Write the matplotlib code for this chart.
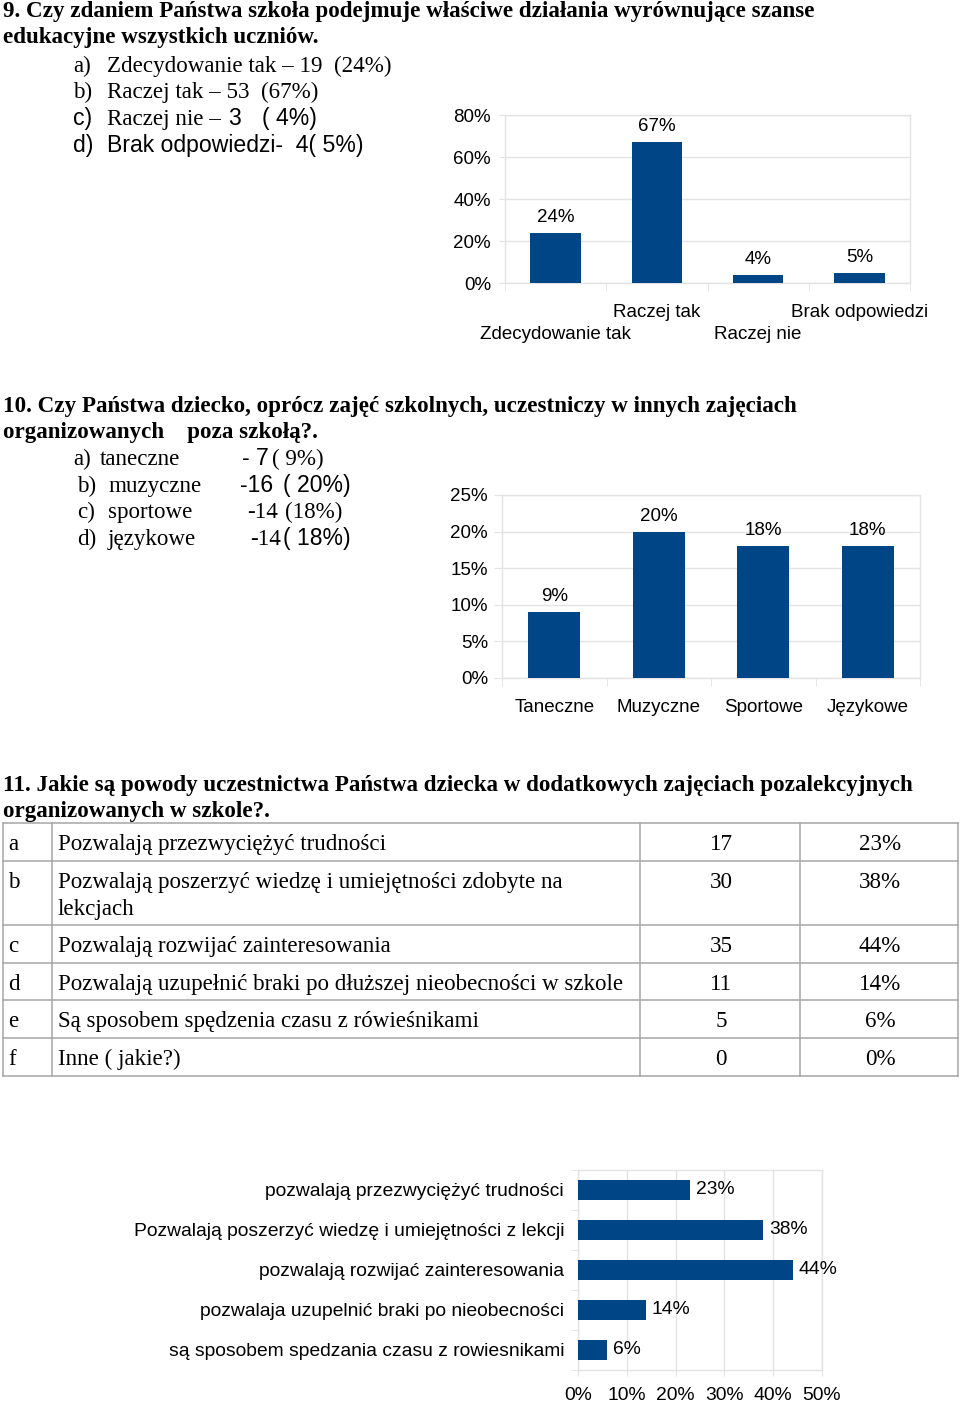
import matplotlib
matplotlib.use("Agg")
import matplotlib.pyplot as plt
import numpy as np

# ---------------- data ----------------
q9_title = ["9. Czy zdaniem Państwa szkoła podejmuje właściwe działania wyrównujące szanse",
            "edukacyjne wszystkich uczniów."]
q9_categories = ["Zdecydowanie tak", "Raczej tak", "Raczej nie", "Brak odpowiedzi"]
q9_counts = [19, 53, 3, 4]
q9_percent = [24, 67, 4, 5]
q9_yticks = [0, 20, 40, 60, 80]

q10_title = ["10. Czy Państwa dziecko, oprócz zajęć szkolnych, uczestniczy w innych zajęciach",
             "organizowanych    poza szkołą?."]
q10_list_names = ["taneczne", "muzyczne", "sportowe", "językowe"]
q10_categories = ["Taneczne", "Muzyczne", "Sportowe", "Językowe"]
q10_counts = [7, 16, 14, 14]
q10_percent = [9, 20, 18, 18]
q10_yticks = [0, 5, 10, 15, 20, 25]

q11_title = ["11. Jakie są powody uczestnictwa Państwa dziecka w dodatkowych zajęciach pozalekcyjnych",
             "organizowanych w szkole?."]
q11_letters = ["a", "b", "c", "d", "e", "f"]
q11_answers = ["Pozwalają przezwyciężyć trudności",
               "Pozwalają poszerzyć wiedzę i umiejętności zdobyte na\nlekcjach",
               "Pozwalają rozwijać zainteresowania",
               "Pozwalają uzupełnić braki po dłuższej nieobecności w szkole",
               "Są sposobem spędzenia czasu z rówieśnikami",
               "Inne ( jakie?)"]
q11_counts = [17, 30, 35, 11, 5, 0]
q11_percent = [23, 38, 44, 14, 6, 0]

q11_chart_labels = ["pozwalają przezwyciężyć trudności",
                    "Pozwalają poszerzyć wiedzę i umiejętności z lekcji",
                    "pozwalają rozwijać zainteresowania",
                    "pozwalaja uzupelnić braki po nieobecności",
                    "są sposobem spedzania czasu z rowiesnikami"]
q11_chart_percent = [23, 38, 44, 14, 6]
q11_xticks = [0, 10, 20, 30, 40, 50]

# ---------------- style ----------------
W, H = 960, 1403
SERIF = "Liberation Serif"
SANS = "Liberation Sans"
BAR = "#004586"
GRID = "#e3e3e3"
BODY = 16.6
CH = 13.5
CH3 = 13.9

fig = plt.figure(figsize=(W / 100, H / 100), dpi=100)
fig.patch.set_facecolor("white")


def T(x, y, s, fam=SERIF, size=BODY, weight="normal", **kw):
    kw.setdefault("va", "baseline")
    kw.setdefault("ha", "left")
    fig.text(x / W, 1 - y / H, s, family=fam, fontsize=size, weight=weight, **kw)


def add_ax(x0, y0, x1, y1):
    return fig.add_axes([x0 / W, 1 - y1 / H, (x1 - x0) / W, (y1 - y0) / H])


def style_axes(ax):
    for sp in ax.spines.values():
        sp.set_color(GRID)
        sp.set_linewidth(1.0)
    ax.set_axisbelow(True)


def pct(v):
    return f"{v}%"


# ---------------- question 9 ----------------
T(3, 17, q9_title[0], weight="bold")
T(3, 43, q9_title[1], weight="bold")
T(73, 72, "a)")
T(107, 72, f"{q9_categories[0]} – {q9_counts[0]}  ({q9_percent[0]}%)")
T(73, 98, "b)")
T(107, 98, f"{q9_categories[1]} – {q9_counts[1]}  ({q9_percent[1]}%)")
T(73, 125, "c)", fam=SANS)
T(107, 125, f"{q9_categories[2]} –")
T(228, 125, f"{q9_counts[2]}", fam=SANS)
T(262, 125, f"( {q9_percent[2]}%)", fam=SANS)
T(73, 152, "d)", fam=SANS)
T(107, 152, f"{q9_categories[3]}-  {q9_counts[3]}( {q9_percent[3]}%)", fam=SANS)

ax1 = add_ax(505, 115, 910, 283)
style_axes(ax1)
x1 = np.arange(len(q9_categories))
ax1.bar(x1, q9_percent, width=0.5, color=BAR, zorder=3)
ax1.set_xlim(-0.5, len(q9_categories) - 0.5)
ax1.set_ylim(0, 80)
ax1.set_yticks(q9_yticks)
ax1.set_yticklabels([pct(v) for v in q9_yticks], family=SANS, fontsize=CH)
ax1.yaxis.grid(True, color=GRID, lw=1)
ax1.tick_params(axis="y", length=4, color=GRID, pad=6)
# staggered category labels: odd ones on the upper row, even ones on the lower row
ax1.set_xticks(x1)
ax1.set_xticklabels([c if i % 2 == 1 else "" for i, c in enumerate(q9_categories)],
                    family=SANS, fontsize=CH)
ax1.set_xticks(np.arange(-0.5, len(q9_categories)), minor=True)
ax1.tick_params(axis="x", which="major", length=0, pad=15)
ax1.tick_params(axis="x", which="minor", length=6, color=GRID)
for i, c in enumerate(q9_categories):
    if i % 2 == 0:
        ax1.annotate(c, (x1[i], 0), xycoords=("data", "axes fraction"),
                     xytext=(0, -31), textcoords="offset points",
                     ha="center", va="top", family=SANS, fontsize=CH)
for i, v in enumerate(q9_percent):
    ax1.annotate(pct(v), (x1[i], v), xytext=(0, 5), textcoords="offset points",
                 ha="center", va="bottom", family=SANS, fontsize=CH)

# ---------------- question 10 ----------------
T(3, 412, q10_title[0], weight="bold")
T(3, 438, q10_title[1], weight="bold")
T(73, 465, "a)")
T(100, 465, q10_list_names[0])
T(242, 465, f"- {q10_counts[0]}", fam=SANS)
T(272, 465, f"( {q10_percent[0]}%)")
T(77, 492, "b)")
T(108, 492, q10_list_names[1])
T(240, 492, f"-{q10_counts[1]}", fam=SANS)
T(283, 492, f"( {q10_percent[1]}%)", fam=SANS)
T(77, 518, "c)")
T(108, 518, q10_list_names[2])
T(247, 518, f"-{q10_counts[2]}")
T(285, 518, f"({q10_percent[2]}%)")
T(77, 545, "d)")
T(108, 545, q10_list_names[3])
T(250, 545, f"-{q10_counts[3]}")
T(283, 545, f"( {q10_percent[3]}%)", fam=SANS)

ax2 = add_ax(502, 495, 920, 678)
style_axes(ax2)
x2 = np.arange(len(q10_categories))
ax2.bar(x2, q10_percent, width=0.5, color=BAR, zorder=3)
ax2.set_xlim(-0.5, len(q10_categories) - 0.5)
ax2.set_ylim(0, 25)
ax2.set_yticks(q10_yticks)
ax2.set_yticklabels([pct(v) for v in q10_yticks], family=SANS, fontsize=CH)
ax2.yaxis.grid(True, color=GRID, lw=1)
ax2.tick_params(axis="y", length=6, color=GRID, pad=4)
ax2.set_xticks(x2)
ax2.set_xticklabels(q10_categories, family=SANS, fontsize=CH)
ax2.set_xticks(np.arange(-0.5, len(q10_categories)), minor=True)
ax2.tick_params(axis="x", which="major", length=0, pad=15)
ax2.tick_params(axis="x", which="minor", length=6, color=GRID)
for i, v in enumerate(q10_percent):
    ax2.annotate(pct(v), (x2[i], v), xytext=(0, 5), textcoords="offset points",
                 ha="center", va="bottom", family=SANS, fontsize=CH)

# ---------------- question 11 ----------------
T(3, 791, q11_title[0], weight="bold")
T(3, 817, q11_title[1], weight="bold")

ov = fig.add_axes([0, 0, 1, 1])
ov.set_xlim(0, W)
ov.set_ylim(H, 0)
ov.axis("off")
row_edges = [823, 861, 925, 963, 1000, 1038, 1076]
col_edges = [3, 52, 640, 800, 958]
LINE = "#a5a5a5"
for y in row_edges:
    ov.plot([col_edges[0], col_edges[-1]], [y, y], color=LINE, lw=1.1)
for x in col_edges:
    ov.plot([x, x], [row_edges[0], row_edges[-1]], color=LINE, lw=1.1)
for i in range(len(q11_letters)):
    yb = row_edges[i] + 27
    T(8, yb, q11_letters[i])
    lines = q11_answers[i].split("\n")
    for k, ln in enumerate(lines):
        T(58, yb + 27 * k, ln)
    T(721, yb, str(q11_counts[i]), ha="center")
    T(880, yb, pct(q11_percent[i]), ha="center")

ax3 = add_ax(578, 1170, 822, 1370)
style_axes(ax3)
y3 = np.arange(len(q11_chart_labels))
ax3.barh(y3, q11_chart_percent, height=0.5, color=BAR, zorder=3)
ax3.set_ylim(len(q11_chart_labels) - 0.5, -0.5)
ax3.set_xlim(0, 50)
ax3.set_xticks(q11_xticks)
ax3.set_xticklabels([pct(v) for v in q11_xticks], family=SANS, fontsize=CH3)
ax3.xaxis.grid(True, color=GRID, lw=1)
ax3.tick_params(axis="x", length=4, color=GRID, pad=8)
ax3.set_yticks(y3)
ax3.set_yticklabels(q11_chart_labels, family=SANS, fontsize=CH3)
ax3.set_yticks(np.arange(-0.5, len(q11_chart_labels)), minor=True)
ax3.tick_params(axis="y", which="major", length=0, pad=10)
ax3.tick_params(axis="y", which="minor", length=5, color=GRID)
for i, v in enumerate(q11_chart_percent):
    ax3.annotate(pct(v), (v, y3[i]), xytext=(4, 0), textcoords="offset points",
                 ha="left", va="center", family=SANS, fontsize=CH3)

fig.savefig("out.png", dpi=100, facecolor="white")
